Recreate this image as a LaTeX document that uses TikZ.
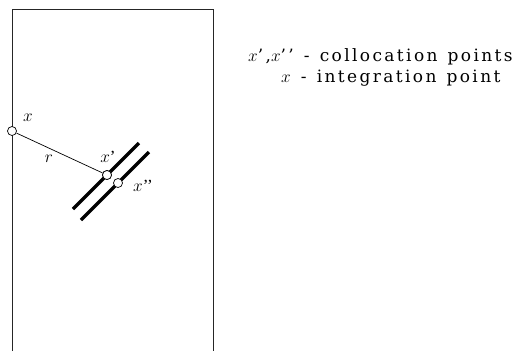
\documentclass[tikz,border=0pt]{standalone}
\usepackage{fontspec}
\setmainfont{Liberation Serif}
\newfontfamily\spaced[LetterSpace=14,WordSpace=1.3]{DejaVu Serif}
\begin{document}
\begin{tikzpicture}[x=1pt,y=-1pt,
  frame/.style={line width=0.9pt,black!85},
  pnt/.style={circle,draw,line width=0.7pt,fill=white,minimum size=9pt,inner sep=0pt},
  crack/.style={line width=3.3pt},
  lbl/.style={font=\fontsize{17}{19}\selectfont,inner sep=0pt},
  txt/.style={font=\fontsize{17}{20}\selectfont\spaced,inner sep=0pt,anchor=base west}]
\useasboundingbox (0,0) rectangle (514,351);
% frame
\draw[frame] (12,351) -- (12,9) -- (213,9) -- (213,351);
% cracks
\coordinate (c1a) at (73,209);
\coordinate (c1b) at (139,143);
\coordinate (c2a) at (81,220);
\coordinate (c2b) at (149,152);
\draw[crack] (c1a) -- (c1b);
\draw[crack] (c2a) -- (c2b);
% points
\node[pnt] (x) at (12,131) {};
\node[pnt] (xp) at (107,175) {};
\node[pnt] (xpp) at (118,183) {};
\draw[line width=0.7pt] (x) -- (xp);
\node[pnt] at (xp) {};
% labels
\node[lbl] (G) at (111,32) {$\mathit{\Gamma}$};
\node[lbl] (lx) at (28,118) {$x$};
\node[lbl] (lr) at (49,159) {$r$};
\node[lbl] (lxp) at (108,157) {$x$\textquoteright};
\node[lbl] (lxpp) at (143,186) {$x$\textquoteright\textquoteright};
% legend
\node[txt] (t1) at (248,61) {$x$\textquoteright,$x$\textquoteright\textquoteright\ - collocation points};
\node[txt] (t2) at (281,82) {$x$ - integration point};
\end{tikzpicture}
\end{document}
